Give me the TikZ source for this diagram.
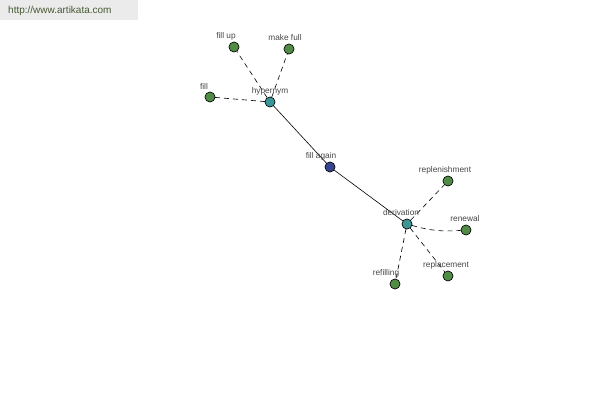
\documentclass[tikz,border=0pt]{standalone}
\usepackage{fontspec}
\setmainfont{Liberation Sans}
\definecolor{gfill}{RGB}{80,140,70}
\definecolor{tfill}{RGB}{60,150,150}
\definecolor{bfill}{RGB}{55,70,140}
\definecolor{lbl}{RGB}{70,70,70}
\definecolor{wm}{RGB}{235,235,235}
\definecolor{wmtext}{RGB}{70,90,50}
\begin{document}
\begin{tikzpicture}[x=1pt,y=-1pt,
  dot/.style={circle,draw=black,line width=0.5pt,minimum size=10pt,inner sep=0pt},
  gdot/.style={dot,fill=gfill},
  tdot/.style={dot,fill=tfill},
  bdot/.style={dot,fill=bfill},
  lab/.style={font=\fontsize{8.3}{9}\selectfont,text=lbl,inner sep=0pt},
  rel/.style={dashed,dash pattern=on 5pt off 4pt,line width=0.6pt},
  main/.style={line width=0.6pt}]
\useasboundingbox (0,0) rectangle (600,400);
\fill[wm] (0,0) rectangle (138,20);
\node[font=\fontsize{10}{11}\selectfont,text=wmtext,anchor=west,inner sep=0pt] (wmk) at (8,11) {http://www.artikata.com};
% nodes
\node[tdot] (hyp) at (270,102) {};
\node[gdot] (fillup) at (234,47) {};
\node[gdot] (makefull) at (289,49) {};
\node[gdot] (fill) at (210,97) {};
\node[bdot] (again) at (330,167) {};
\node[tdot] (der) at (407,224) {};
\node[gdot] (repl) at (448,181) {};
\node[gdot] (renew) at (466,230) {};
\node[gdot] (replace) at (448,276) {};
\node[gdot] (refill) at (395,284) {};
% edges
\draw[main] (hyp) -- (again);
\draw[main] (again) -- (der);
\draw[rel] (hyp) -- (fillup);
\draw[rel] (hyp) -- (makefull);
\draw[rel] (hyp) -- (fill);
\draw[rel] (der) -- (repl);
\draw[rel] (der) to[bend right=10] (renew);
\draw[rel] (der) -- (replace);
\draw[rel] (der) -- (refill);
% redraw nodes on top
\foreach \n/\s in {hyp/tdot,fillup/gdot,makefull/gdot,fill/gdot,again/bdot,der/tdot,repl/gdot,renew/gdot,replace/gdot,refill/gdot}
  \node[\s] at (\n) {};
% labels
\node[lab] (lhyp) at (270,91) {hypernym};
\node[lab] (lfillup) at (226,36) {fill up};
\node[lab] (lmake) at (285,38) {make full};
\node[lab] (lfill) at (204,86) {fill};
\node[lab] (lagain) at (321,156) {fill again};
\node[lab] (lder) at (401,213) {derivation};
\node[lab] (lrepl) at (445,170) {replenishment};
\node[lab] (lrenew) at (465,219) {renewal};
\node[lab] (lreplace) at (446,265) {replacement};
\node[lab] (lrefill) at (386,273) {refilling};
\end{tikzpicture}
\end{document}
